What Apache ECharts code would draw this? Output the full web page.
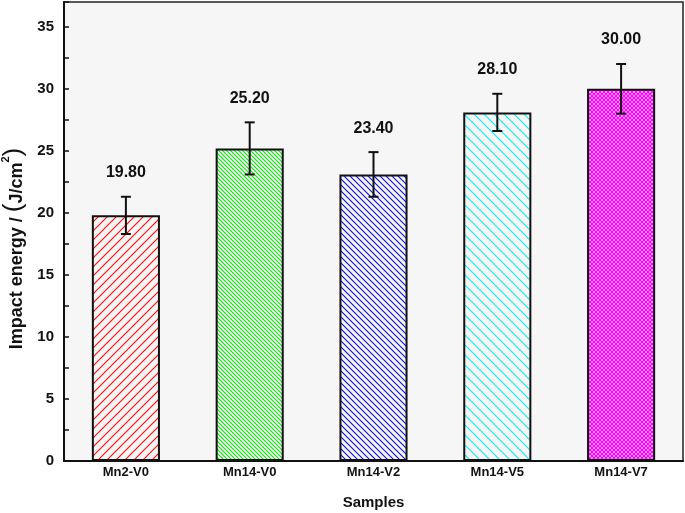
<!DOCTYPE html>
<html><head><meta charset="utf-8">
<script src="https://cdn.jsdelivr.net/npm/echarts@6/dist/echarts.min.js"></script>
<style>html,body{margin:0;padding:0;background:#fff}#c{width:685px;height:513px}</style>
</head><body><div id="c"></div>
<script>
const categories = ['Mn2-V0', 'Mn14-V0', 'Mn14-V2', 'Mn14-V5', 'Mn14-V7'];
const values = [19.8, 25.2, 23.1, 28.1, 30.0];
const errors = [1.5, 2.1, 1.8, 1.5, 2.0];
const valueLabels = ['19.80', '25.20', '23.40', '28.10', '30.00'];
const yTicks = [0, 5, 10, 15, 20, 25, 30, 35];

const FONT = '"Liberation Sans", Arial, sans-serif';
const BG = '#f6f6f6';

function hatch(size, color, dir, lw) {
  const c = document.createElement('canvas');
  c.width = size; c.height = size;
  const g = c.getContext('2d');
  g.fillStyle = BG; g.fillRect(0, 0, size, size);
  g.strokeStyle = color; g.lineWidth = lw;
  const draw = (d) => {
    g.beginPath();
    if (d === '/') {
      g.moveTo(-1, size + 1); g.lineTo(size + 1, -1);
      g.moveTo(-1, 1); g.lineTo(1, -1);
      g.moveTo(size - 1, size + 1); g.lineTo(size + 1, size - 1);
    } else {
      g.moveTo(-1, -1); g.lineTo(size + 1, size + 1);
      g.moveTo(size - 1, -1); g.lineTo(size + 1, 1);
      g.moveTo(-1, size - 1); g.lineTo(1, size + 1);
    }
    g.stroke();
  };
  if (dir === 'x') { draw('/'); draw('\\'); } else draw(dir);
  return { image: c, repeat: 'repeat' };
}

const patterns = [
  hatch(9, '#ff1010', '/', 1.2),
  hatch(4, '#10e010', '\\', 1.1),
  hatch(6, '#1515e0', '\\', 1.2),
  hatch(10, '#10eeee', '\\', 1.2),
  hatch(4, '#ff00ff', 'x', 1.3)
];

const chart = echarts.init(document.getElementById('c'), null, { renderer: 'canvas' });
chart.setOption({
  backgroundColor: '#fff',
  animation: false,
  grid: { left: 64, right: 2, top: 2, bottom: 52, containLabel: false, outerBoundsMode: 'none', show: true, backgroundColor: BG, borderColor: '#222', borderWidth: 1.5 },
  xAxis: {
    type: 'category', data: categories,
    name: 'Samples', nameLocation: 'middle', nameGap: 34,
    nameTextStyle: { fontFamily: FONT, fontWeight: 'bold', fontSize: 15, color: '#111' },
    axisLine: { lineStyle: { color: '#111', width: 2 } },
    axisTick: { inside: true, length: 8, alignWithLabel: true, lineStyle: { color: '#111', width: 1.5 } },
    axisLabel: { fontFamily: FONT, fontWeight: 'bold', fontSize: 13, color: '#111', margin: 5 },
    splitLine: { show: false }
  },
  yAxis: [{
    type: 'value', min: 0, max: 37, interval: 5,
    name: '{a|Impact energy / }{p|(}{a|J/cm}{s|2}{p|)}',
    nameLocation: 'middle', nameGap: 31, nameRotate: 90,
    nameTextStyle: {
      padding: [0, 34, 0, 0],
      rich: {
        a: { fontFamily: FONT, fontWeight: 'bold', fontSize: 18, color: '#111', verticalAlign: 'bottom', lineHeight: 26 },
        p: { fontFamily: FONT, fontWeight: 'normal', fontSize: 26, color: '#111', verticalAlign: 'bottom', lineHeight: 26 },
        s: { fontFamily: FONT, fontWeight: 'bold', fontSize: 11, color: '#111', verticalAlign: 'top', lineHeight: 14 }
      }
    },
    axisLine: { show: true, lineStyle: { color: '#111', width: 2 } },
    axisTick: { inside: true, length: 8, lineStyle: { color: '#111', width: 1.5 } },
    axisLabel: {
      fontFamily: FONT, fontWeight: 'bold', fontSize: 15, color: '#111', margin: 10, showMaxLabel: false,
      formatter: v => (yTicks.indexOf(v) >= 0 ? String(v) : '')
    },
    splitLine: { show: false }
  }, {
    type: 'value', min: 0, max: 37, interval: 2.5, position: 'left',
    axisLine: { show: false },
    axisTick: { show: true, inside: true, length: 5, lineStyle: { color: '#111', width: 1.5 } },
    axisLabel: { show: false },
    splitLine: { show: false }
  }],
  series: [{
    type: 'bar', barWidth: '55%',
    data: values.map((v, i) => ({ value: v, itemStyle: { color: patterns[i] } })),
    itemStyle: { borderColor: '#111', borderWidth: 2 }
  }, {
    type: 'custom',
    data: values.map((v, i) => [i, v, errors[i]]),
    renderItem: function (params, api) {
      const i = api.value(0), v = api.value(1), e = api.value(2);
      const hi = api.coord([i, v + e]);
      const lo = api.coord([i, v - e]);
      const w = 5;
      const st = { stroke: '#111', lineWidth: 2 };
      return {
        type: 'group',
        children: [
          { type: 'line', shape: { x1: hi[0], y1: hi[1], x2: lo[0], y2: lo[1] }, style: st },
          { type: 'line', shape: { x1: hi[0] - w, y1: hi[1], x2: hi[0] + w, y2: hi[1] }, style: st },
          { type: 'line', shape: { x1: lo[0] - w, y1: lo[1], x2: lo[0] + w, y2: lo[1] }, style: st },
          { type: 'text', style: { text: valueLabels[params.dataIndex], x: hi[0], y: hi[1] - 24, textAlign: 'center', textVerticalAlign: 'middle', font: 'bold 16px ' + FONT, fill: '#111' } }
        ]
      };
    },
    z: 5
  }]
});
</script></body></html>
